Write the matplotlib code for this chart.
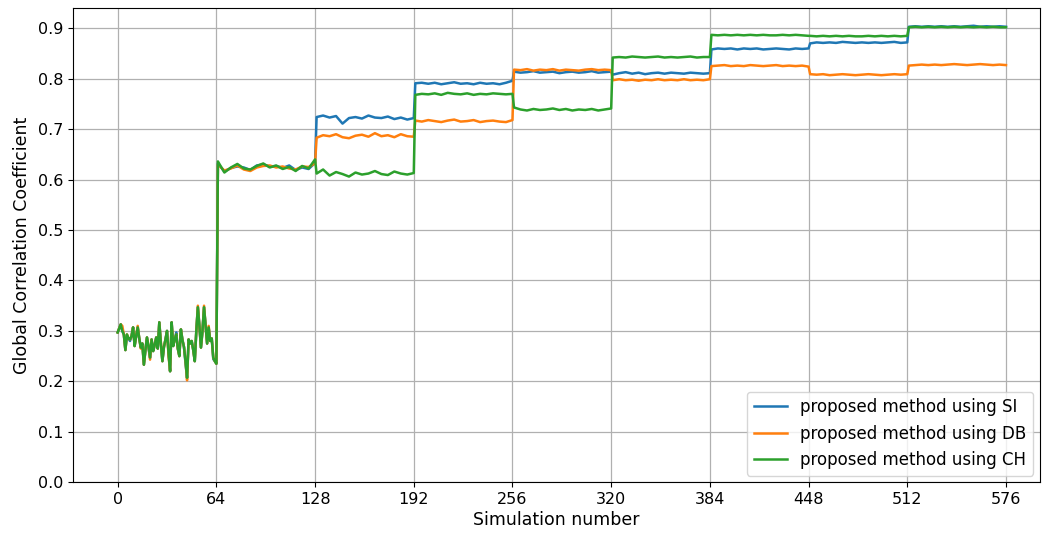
import numpy as np
import matplotlib
matplotlib.use("Agg")
import matplotlib.pyplot as plt

# Warm-up block (simulations 0..64), one value per simulation
si_warmup = [0.297, 0.305, 0.313, 0.300, 0.293, 0.262, 0.290, 0.285, 0.280, 0.290,
             0.307, 0.270, 0.290, 0.307, 0.285, 0.267, 0.275, 0.233, 0.262, 0.287,
             0.266, 0.247, 0.283, 0.260, 0.272, 0.287, 0.265, 0.317, 0.275, 0.240,
             0.268, 0.283, 0.300, 0.255, 0.220, 0.317, 0.270, 0.283, 0.297, 0.265,
             0.250, 0.303, 0.282, 0.268, 0.236, 0.207, 0.283, 0.275, 0.280, 0.262,
             0.240, 0.300, 0.347, 0.310, 0.267, 0.300, 0.347, 0.310, 0.275, 0.307,
             0.280, 0.285, 0.244, 0.240, 0.235]
db_warmup = [0.297, 0.305, 0.313, 0.310, 0.293, 0.262, 0.293, 0.285, 0.283, 0.290,
             0.307, 0.270, 0.290, 0.310, 0.285, 0.265, 0.275, 0.233, 0.262, 0.287,
             0.270, 0.243, 0.283, 0.260, 0.272, 0.287, 0.265, 0.317, 0.278, 0.240,
             0.268, 0.283, 0.300, 0.250, 0.220, 0.317, 0.270, 0.283, 0.293, 0.265,
             0.250, 0.303, 0.282, 0.268, 0.240, 0.202, 0.283, 0.275, 0.280, 0.262,
             0.240, 0.300, 0.350, 0.310, 0.267, 0.300, 0.350, 0.310, 0.275, 0.310,
             0.280, 0.285, 0.247, 0.240, 0.235]
ch_warmup = [0.297, 0.305, 0.313, 0.300, 0.293, 0.262, 0.293, 0.285, 0.283, 0.290,
             0.307, 0.270, 0.290, 0.307, 0.285, 0.267, 0.275, 0.233, 0.262, 0.287,
             0.270, 0.247, 0.283, 0.260, 0.272, 0.287, 0.265, 0.317, 0.275, 0.240,
             0.268, 0.283, 0.300, 0.255, 0.220, 0.317, 0.270, 0.283, 0.293, 0.265,
             0.250, 0.303, 0.282, 0.268, 0.240, 0.207, 0.283, 0.275, 0.280, 0.262,
             0.240, 0.300, 0.347, 0.310, 0.267, 0.300, 0.347, 0.310, 0.275, 0.307,
             0.280, 0.285, 0.247, 0.240, 0.235]

# Later blocks of 64 simulations each, sampled 16 times per block
si_blocks = [
    [0.632, 0.616, 0.623, 0.626, 0.624, 0.619, 0.628, 0.630, 0.626, 0.627, 0.623, 0.628, 0.619, 0.624, 0.621, 0.633],
    [0.724, 0.727, 0.723, 0.726, 0.711, 0.722, 0.724, 0.721, 0.727, 0.723, 0.722, 0.725, 0.720, 0.723, 0.719, 0.722],
    [0.791, 0.792, 0.790, 0.792, 0.789, 0.791, 0.793, 0.790, 0.791, 0.789, 0.792, 0.790, 0.791, 0.789, 0.792, 0.796],
    [0.814, 0.812, 0.813, 0.815, 0.812, 0.813, 0.814, 0.811, 0.813, 0.814, 0.812, 0.813, 0.815, 0.812, 0.813, 0.814],
    [0.808, 0.811, 0.813, 0.810, 0.812, 0.809, 0.811, 0.812, 0.810, 0.812, 0.811, 0.810, 0.812, 0.811, 0.810, 0.811],
    [0.858, 0.860, 0.859, 0.860, 0.858, 0.860, 0.859, 0.860, 0.858, 0.859, 0.860, 0.859, 0.858, 0.860, 0.859, 0.860],
    [0.870, 0.872, 0.871, 0.872, 0.871, 0.873, 0.872, 0.871, 0.872, 0.871, 0.872, 0.871, 0.872, 0.873, 0.871, 0.872],
    [0.903, 0.904, 0.903, 0.904, 0.903, 0.904, 0.903, 0.904, 0.903, 0.904, 0.905, 0.903, 0.904, 0.903, 0.904, 0.903],
]
db_blocks = [
    [0.630, 0.618, 0.622, 0.628, 0.620, 0.617, 0.624, 0.627, 0.628, 0.624, 0.626, 0.622, 0.620, 0.626, 0.625, 0.632],
    [0.683, 0.688, 0.686, 0.690, 0.684, 0.682, 0.687, 0.689, 0.685, 0.692, 0.686, 0.688, 0.684, 0.690, 0.686, 0.685],
    [0.717, 0.715, 0.718, 0.716, 0.714, 0.717, 0.719, 0.715, 0.716, 0.718, 0.714, 0.716, 0.717, 0.715, 0.714, 0.718],
    [0.818, 0.817, 0.819, 0.816, 0.818, 0.817, 0.819, 0.816, 0.818, 0.817, 0.816, 0.818, 0.819, 0.817, 0.818, 0.817],
    [0.797, 0.799, 0.797, 0.798, 0.796, 0.798, 0.797, 0.799, 0.797, 0.798, 0.797, 0.799, 0.797, 0.798, 0.797, 0.799],
    [0.825, 0.826, 0.827, 0.825, 0.826, 0.825, 0.827, 0.826, 0.825, 0.826, 0.827, 0.825, 0.826, 0.825, 0.826, 0.824],
    [0.809, 0.808, 0.809, 0.807, 0.808, 0.809, 0.808, 0.807, 0.808, 0.809, 0.808, 0.807, 0.808, 0.809, 0.808, 0.809],
    [0.826, 0.827, 0.828, 0.827, 0.828, 0.827, 0.828, 0.829, 0.828, 0.827, 0.828, 0.829, 0.828, 0.827, 0.828, 0.827],
]
ch_blocks = [
    [0.636, 0.614, 0.624, 0.631, 0.622, 0.620, 0.627, 0.632, 0.624, 0.628, 0.621, 0.625, 0.617, 0.627, 0.622, 0.640],
    [0.612, 0.620, 0.608, 0.615, 0.611, 0.606, 0.614, 0.610, 0.612, 0.617, 0.611, 0.609, 0.616, 0.612, 0.610, 0.613],
    [0.768, 0.770, 0.769, 0.771, 0.768, 0.772, 0.770, 0.769, 0.771, 0.768, 0.770, 0.769, 0.771, 0.770, 0.769, 0.770],
    [0.743, 0.739, 0.737, 0.740, 0.738, 0.739, 0.741, 0.738, 0.740, 0.737, 0.739, 0.738, 0.740, 0.737, 0.739, 0.741],
    [0.842, 0.843, 0.842, 0.844, 0.843, 0.842, 0.843, 0.844, 0.842, 0.843, 0.842, 0.843, 0.844, 0.842, 0.843, 0.843],
    [0.887, 0.886, 0.887, 0.886, 0.887, 0.886, 0.887, 0.886, 0.887, 0.886, 0.886, 0.887, 0.886, 0.887, 0.886, 0.885],
    [0.885, 0.884, 0.885, 0.884, 0.885, 0.884, 0.885, 0.884, 0.884, 0.885, 0.884, 0.885, 0.884, 0.885, 0.884, 0.885],
    [0.902, 0.903, 0.902, 0.903, 0.902, 0.903, 0.902, 0.903, 0.902, 0.903, 0.902, 0.903, 0.902, 0.903, 0.902, 0.902],
]

series_labels = ["proposed method using SI", "proposed method using DB", "proposed method using CH"]
x_ticks = [0, 64, 128, 192, 256, 320, 384, 448, 512, 576]
block_size = 64


def assemble(warmup, blocks):
    xs = list(np.arange(len(warmup)))
    ys = list(warmup)
    for k, vals in enumerate(blocks, start=1):
        start = block_size * k + 1
        xs.extend(np.linspace(start, start + block_size - 1, len(vals)))
        ys.extend(vals)
    return np.array(xs), np.array(ys)


plt.rcParams["font.family"] = "DejaVu Sans"
plt.rcParams["font.size"] = 12

fig = plt.figure(figsize=(10.42, 5.40), dpi=100)
ax = fig.add_axes([0.070, 0.107, 0.928, 0.878])

colors = ["#1f77b4", "#ff7f0e", "#2ca02c"]
for (warm, blocks), label, color in zip(
        [(si_warmup, si_blocks), (db_warmup, db_blocks), (ch_warmup, ch_blocks)],
        series_labels, colors):
    x, y = assemble(warm, blocks)
    ax.plot(x, y, color=color, linewidth=1.8, label=label)

ax.set_xticks(x_ticks)
ax.set_yticks(np.arange(0, 0.91, 0.1))
ax.tick_params(labelsize=11.5)
ax.set_xlim(-29, 598)
ax.set_ylim(0, 0.94)
ax.grid(True, color="#b0b0b0", linewidth=0.9)
ax.set_axisbelow(True)
ax.set_xlabel("Simulation number", fontsize=12.5, labelpad=3)
ax.set_ylabel("Global Correlation Coefficient", fontsize=12.5, labelpad=5)
ax.legend(loc="lower right", fontsize=12, borderaxespad=0.4)

fig.savefig("out.png", dpi=100)
